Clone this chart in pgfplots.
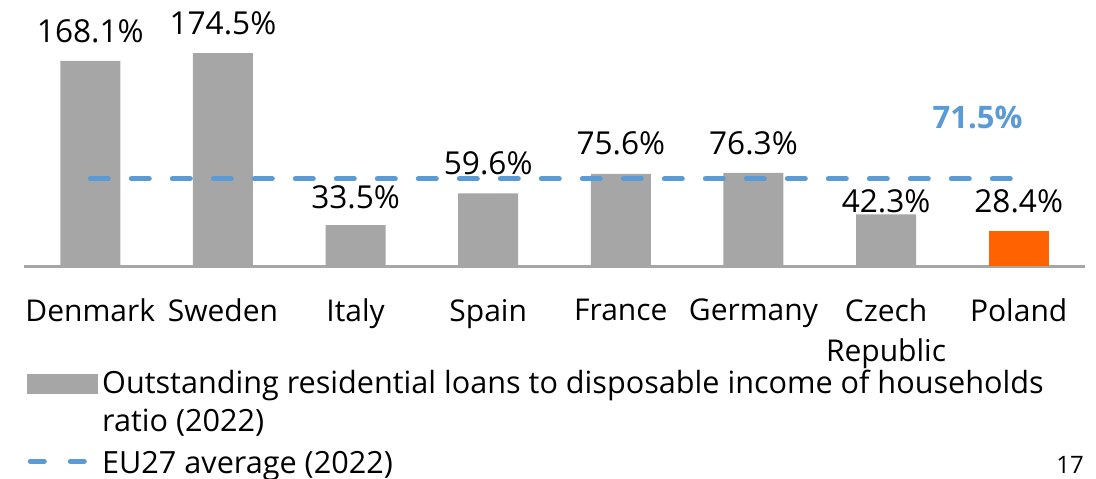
\documentclass[border=0pt]{standalone}
\usepackage{pgfplots}
\usepackage{pgfplotstable}
\pgfplotsset{compat=1.18}
\usepackage{fontspec}
\setmainfont{Open Sans}
\definecolor{barGray}{HTML}{A6A6A6}
\definecolor{ingOrange}{HTML}{FF6200}
\definecolor{avgBlue}{HTML}{5B9BD5}
\pgfplotstableread{
x y shift
0 168.1 15
1 174.5 15
2 33.5 14
3 59.6 15
4 75.6 15
5 76.3 15
6 42.3 6.5
}\bars
\pgfplotstableread{
x y shift
7 28.4 15
}\poland
\begin{document}
\begin{tikzpicture}
\path[use as bounding box] (0,0) rectangle (548pt,239pt);
\begin{axis}[
 at={(12pt,106pt)}, anchor=south west,
 width=530.5pt, height=122pt, scale only axis,
 xmin=-0.5, xmax=7.5, ymin=0, ymax=200,
 axis x line=bottom, axis y line=none,
 x axis line style={-, draw=barGray, line width=1.5pt},
 xtick={0,...,7},
 xticklabels={Denmark,Sweden,Italy,Spain,France,Germany,{Czech\\Republic},Poland},
 xticklabel style={align=center, font=\fontsize{15}{20}\selectfont, yshift=-13pt},
 major tick length=0pt,
 clip=false,
 /pgf/number format/assume math mode=true,
 legend cell align=left,
 legend style={draw=none, fill=none, at={(0,-0.41)}, anchor=north west, xshift=1.5pt,
   font=\fontsize{15.3}{18}\selectfont, inner sep=0pt, row sep=2pt},
]
\addplot[ybar, bar width=30pt, bar shift=0pt, fill=barGray, draw=none, forget plot,
  nodes near coords={\pgfmathprintnumber[fixed,precision=1,fixed zerofill]{\pgfplotspointmeta}\%},
  nodes near coords style={font=\fontsize{15.8}{18}\selectfont, anchor=center, text=black, yshift=\myshift},
  visualization depends on={\thisrow{shift} \as \myshift}]
  table[x=x, y=y] {\bars};
\addplot[ybar, bar width=30pt, bar shift=0pt, fill=ingOrange, draw=none, forget plot,
  nodes near coords={\pgfmathprintnumber[fixed,precision=1,fixed zerofill]{\pgfplotspointmeta}\%},
  nodes near coords style={font=\fontsize{15.8}{18}\selectfont, anchor=center, text=black, yshift=\myshift},
  visualization depends on={\thisrow{shift} \as \myshift}]
  table[x=x, y=y] {\poland};
\addplot[avgBlue, line width=2.5pt, dash pattern=on 9pt off 11.5pt, line cap=round, forget plot]
  coordinates {(0,71.5) (7,71.5)};
\node[font=\bfseries\fontsize{15.5}{18}\selectfont, text=avgBlue] at (axis cs:6.69,122) {71.5\%};
\addlegendimage{legend image code/.code={\fill[barGray] (0pt,-4.75pt) rectangle (35pt,4.75pt);}}
\addlegendentry{Outstanding residential loans to disposable income of households}
\addlegendimage{empty legend}
\addlegendentry{ratio (2022)}
\addlegendimage{legend image code/.code={\draw[avgBlue, line width=2.5pt, dash pattern=on 7pt off 13pt, line cap=round] (1.25pt,0pt) -- (32pt,0pt);}}
\addlegendentry{\rule{0pt}{13.5pt}EU27 average (2022)}
\end{axis}
\node[font=\fontsize{12}{14}\selectfont] at (535pt,6.5pt) {17};
\end{tikzpicture}
\end{document}
